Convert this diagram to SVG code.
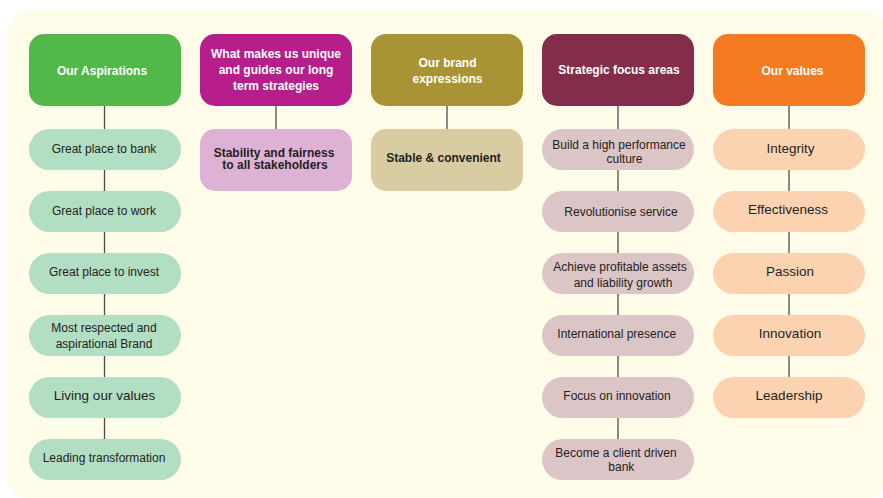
<svg xmlns="http://www.w3.org/2000/svg" width="883" height="498" viewBox="0 0 883 498">
  <style>
    .hd { font-family: "Liberation Sans", Arial, sans-serif; font-size: 12px; font-weight: bold; fill: #ffffff; text-anchor: middle; }
    .tx { font-family: "Liberation Sans", Arial, sans-serif; font-size: 12px; fill: #231f20; text-anchor: middle; }
    .txb { font-family: "Liberation Sans", Arial, sans-serif; font-size: 12px; font-weight: bold; fill: #231f20; text-anchor: middle; }
    .txl { font-family: "Liberation Sans", Arial, sans-serif; font-size: 13.5px; fill: #231f20; text-anchor: middle; }
    .link { stroke: #4d4d4d; stroke-width: 1.3; fill: none; }
    .asp { fill: #b2dec3; }
    .unq { fill: #deb2d4; }
    .brd { fill: #d8cca3; }
    .foc { fill: #dbc5c6; }
    .val { fill: #fcd3b1; }
  </style>

  <!-- page -->
  <rect x="0" y="0" width="883" height="498" fill="#ffffff"/>
  <rect x="7" y="10" width="880" height="490" rx="25" fill="#fffce9"/>

  <!-- connectors -->
  <g id="connectors">
    <path class="link" d="M104.5 105V129 M104.5 170V191 M104.5 232V253 M104.5 294V315 M104.5 356V377 M104.5 418V439"/>
    <path class="link" d="M276 105V129"/>
    <path class="link" d="M447 105V129"/>
    <path class="link" d="M618 105V129 M618 170V191 M618 232V253 M618 294V315 M618 356V377 M618 418V439"/>
    <path class="link" d="M789 105V129 M789 170V191 M789 232V253 M789 294V315 M789 356V377"/>
  </g>

  <!-- column 1: aspirations -->
  <g id="h-aspirations">
    <rect x="29" y="34" width="152" height="72" rx="15" fill="#52b84a"/>
    <text class="hd" x="102" y="75">Our Aspirations</text>
  </g>
  <g id="a1"><rect class="asp" x="29" y="129" width="152" height="41" rx="20.5"/><text class="tx" x="104" y="152.5">Great place to bank</text></g>
  <g id="a2"><rect class="asp" x="29" y="191" width="152" height="41" rx="20.5"/><text class="tx" x="104" y="214.5">Great place to work</text></g>
  <g id="a3"><rect class="asp" x="29" y="253" width="152" height="41" rx="20.5"/><text class="tx" x="104" y="276.3">Great place to invest</text></g>
  <g id="a4"><rect class="asp" x="29" y="315" width="152" height="41" rx="20.5"/><text class="tx" x="104" y="331.8">Most respected and</text><text class="tx" x="104" y="348.3">aspirational Brand</text></g>
  <g id="a5"><rect class="asp" x="29" y="377" width="152" height="41" rx="20.5"/><text class="txl" x="104.5" y="400.3">Living our values</text></g>
  <g id="a6"><rect class="asp" x="29" y="439" width="152" height="41" rx="20.5"/><text class="tx" x="104" y="462.3">Leading transformation</text></g>

  <!-- column 2: what makes us unique -->
  <g id="h-unique">
    <rect x="200" y="34" width="152" height="72" rx="15" fill="#b51e8b"/>
    <text class="hd" x="276" y="58">What makes us unique</text>
    <text class="hd" x="276" y="74">and guides our long</text>
    <text class="hd" x="276" y="90">term strategies</text>
  </g>
  <g id="u1"><rect class="unq" x="200" y="129" width="152" height="62" rx="15"/><text class="txb" x="274" y="156.7">Stability and fairness</text><text class="txb" x="275" y="169.2">to all stakeholders</text></g>

  <!-- column 3: brand expressions -->
  <g id="h-brand">
    <rect x="371" y="34" width="152" height="72" rx="15" fill="#a89434"/>
    <text class="hd" x="447.5" y="66.7">Our brand</text>
    <text class="hd" x="447.5" y="83">expressions</text>
  </g>
  <g id="b1"><rect class="brd" x="371" y="129" width="152" height="62" rx="15"/><text class="txb" x="443.5" y="161.7">Stable &amp; convenient</text></g>

  <!-- column 4: strategic focus areas -->
  <g id="h-focus">
    <rect x="542" y="34" width="152" height="72" rx="15" fill="#842d4a"/>
    <text class="hd" x="619" y="74">Strategic focus areas</text>
  </g>
  <g id="f1"><rect class="foc" x="542" y="129" width="152" height="41" rx="20.5"/><text class="tx" x="619" y="149">Build a high performance</text><text class="tx" x="624.5" y="163">culture</text></g>
  <g id="f2"><rect class="foc" x="542" y="191" width="152" height="41" rx="20.5"/><text class="tx" x="621" y="216">Revolutionise service</text></g>
  <g id="f3"><rect class="foc" x="542" y="253" width="152" height="41" rx="20.5"/><text class="tx" x="620" y="270.7">Achieve profitable assets</text><text class="tx" x="623" y="287.3">and liability growth</text></g>
  <g id="f4"><rect class="foc" x="542" y="315" width="152" height="41" rx="20.5"/><text class="tx" x="616.7" y="338.3">International presence</text></g>
  <g id="f5"><rect class="foc" x="542" y="377" width="152" height="41" rx="20.5"/><text class="tx" x="617" y="400">Focus on innovation</text></g>
  <g id="f6"><rect class="foc" x="542" y="439" width="152" height="41" rx="20.5"/><text class="tx" x="616" y="456.7">Become a client driven</text><text class="tx" x="621.3" y="470.7">bank</text></g>

  <!-- column 5: values -->
  <g id="h-values">
    <rect x="713" y="34" width="152" height="72" rx="15" fill="#f47b22"/>
    <text class="hd" x="792.5" y="75.3">Our values</text>
  </g>
  <g id="v1"><rect class="val" x="713" y="129" width="152" height="41" rx="20.5"/><text class="txl" x="790.5" y="152.7">Integrity</text></g>
  <g id="v2"><rect class="val" x="713" y="191" width="152" height="41" rx="20.5"/><text class="txl" x="788" y="214.3">Effectiveness</text></g>
  <g id="v3"><rect class="val" x="713" y="253" width="152" height="41" rx="20.5"/><text class="txl" x="790" y="276">Passion</text></g>
  <g id="v4"><rect class="val" x="713" y="315" width="152" height="41" rx="20.5"/><text class="txl" x="790" y="338.3">Innovation</text></g>
  <g id="v5"><rect class="val" x="713" y="377" width="152" height="41" rx="20.5"/><text class="txl" x="789" y="400">Leadership</text></g>
</svg>
